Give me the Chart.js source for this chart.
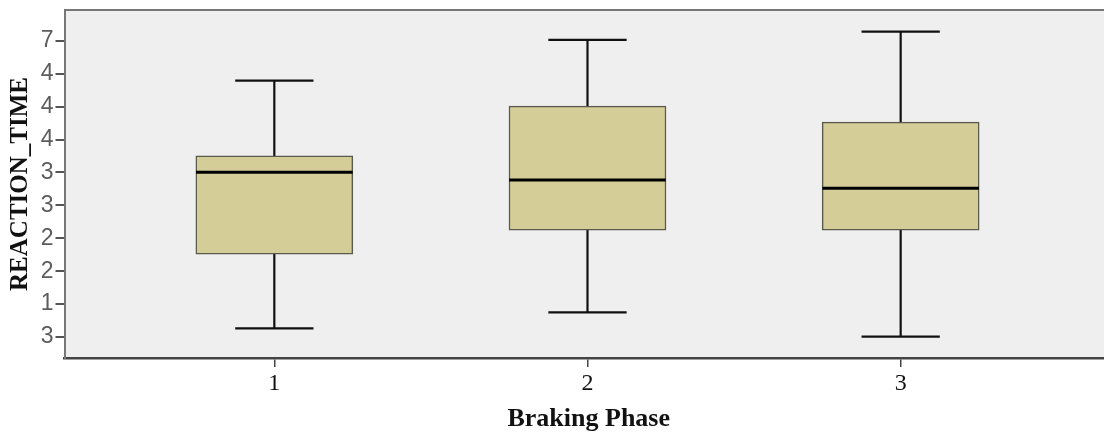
<!DOCTYPE html>
<html>
<head>
<meta charset="utf-8">
<script src="https://cdn.jsdelivr.net/npm/chart.js@4/dist/chart.umd.min.js"></script>
<style>
  html, body { margin: 0; padding: 0; background: #fff; overflow: hidden; }
  #wrap { width: 1120px; height: 436px; position: relative; }
</style>
</head>
<body>
<div id="wrap"><canvas id="boxChart"></canvas></div>
<script>
/* ---- data (y in axis units, tick 0 = bottom) ---- */
const phases      = [1, 2, 3];
const whiskerLow  = [0.26, 0.75, 0.01];
const q1          = [2.52, 3.25, 3.25];
const median      = [5.01, 4.77, 4.52];
const q3          = [5.51, 7.02, 6.53];
const whiskerHigh = [7.79, 9.03, 9.28];

const yTickValues = [0, 1, 2, 3, 4, 5, 6, 7, 8, 9];
const yTickLabels = ['3', '1', '2', '2', '3', '3', '4', '4', '4', '7'];

/* ---- whiskers, caps, medians, plot frame ---- */
const boxPlotExtras = {
  id: 'boxPlotExtras',
  beforeDraw (chart) {
    const { ctx, chartArea: a } = chart;
    ctx.save();
    ctx.fillStyle = '#efefef';
    ctx.fillRect(a.left, a.top, a.width, a.height);
    ctx.restore();
  },
  beforeDatasetsDraw (chart) {
    const { ctx, scales: { x, y } } = chart;
    ctx.save();
    ctx.strokeStyle = '#111';
    ctx.lineWidth = 2.2;
    phases.forEach((p, i) => {
      const cx = x.getPixelForValue(p);
      const capL = x.getPixelForValue(p - 0.125);
      const capR = x.getPixelForValue(p + 0.125);
      const lo = y.getPixelForValue(whiskerLow[i]);
      const hi = y.getPixelForValue(whiskerHigh[i]);
      ctx.beginPath();
      ctx.moveTo(cx, lo); ctx.lineTo(cx, hi);
      ctx.moveTo(capL, lo); ctx.lineTo(capR, lo);
      ctx.moveTo(capL, hi); ctx.lineTo(capR, hi);
      ctx.stroke();
    });
    ctx.restore();
  },
  afterDatasetsDraw (chart) {
    const { ctx, scales: { x, y }, chartArea: a } = chart;
    ctx.save();
    ctx.strokeStyle = '#000';
    ctx.lineWidth = 3;
    phases.forEach((p, i) => {
      const l = x.getPixelForValue(p - 0.25);
      const r = x.getPixelForValue(p + 0.25);
      const m = y.getPixelForValue(median[i]);
      ctx.beginPath();
      ctx.moveTo(l, m); ctx.lineTo(r, m);
      ctx.stroke();
    });
    // top + right border of the plot frame
    ctx.strokeStyle = '#777';
    ctx.lineWidth = 2;
    ctx.beginPath();
    ctx.moveTo(a.left, a.top); ctx.lineTo(a.right, a.top); ctx.lineTo(a.right, a.bottom);
    ctx.stroke();
    ctx.restore();
  }
};

const noPad = s => { s.paddingTop = 0; s.paddingBottom = 0; s.paddingLeft = 0; s.paddingRight = 0; };

new Chart(document.getElementById('boxChart'), {
  type: 'bar',
  data: {
    datasets: [{
      data: phases.map((p, i) => ({ x: p, y: [q1[i], q3[i]] })),
      backgroundColor: '#d4cd98',
      borderColor: '#5a5a4c',
      borderWidth: 1.5,
      borderSkipped: false,
      barThickness: 157
    }]
  },
  options: {
    responsive: true,
    maintainAspectRatio: false,
    animation: false,
    layout: { padding: { top: 10, right: 7, bottom: 0, left: 0 } },
    plugins: { legend: { display: false }, tooltip: { enabled: false } },
    scales: {
      x: {
        type: 'linear',
        min: 0.33,
        max: 3.678,
        offset: false,
        afterBuildTicks: s => { s.ticks = phases.map(v => ({ value: v })); },
        afterFit: s => { s.height = 78; noPad(s); },
        ticks: {
          color: '#111',
          padding: 2,
          font: { family: "'Liberation Serif', serif", size: 24 }
        },
        grid: { offset: false, drawOnChartArea: false, drawTicks: true, tickLength: 9, color: '#444', lineWidth: 1.5 },
        border: { display: true, color: '#444', width: 2.5 },
        title: {
          display: true,
          text: 'Braking Phase',
          color: '#111',
          padding: { top: 0, bottom: 1 },
          font: { family: "'Liberation Serif', serif", size: 26, weight: 'bold' }
        }
      },
      y: {
        min: -0.64,
        max: 9.94,
        afterBuildTicks: s => { s.ticks = yTickValues.map(v => ({ value: v })); },
        afterFit: s => { s.width = 64.5; noPad(s); },
        ticks: {
          color: '#5c5c5c',
          padding: 2,
          font: { family: "'Liberation Sans Narrow', 'Liberation Sans', sans-serif", size: 23 },
          callback: v => yTickLabels[yTickValues.indexOf(v)]
        },
        grid: { drawOnChartArea: false, drawTicks: true, tickLength: 9, color: '#555', lineWidth: 2 },
        border: { display: true, color: '#777', width: 2 },
        title: {
          display: true,
          text: 'REACTION_TIME',
          color: '#111',
          padding: { top: 6, bottom: 0 },
          font: { family: "'Liberation Serif', serif", size: 25, weight: 'bold' }
        }
      }
    }
  },
  plugins: [boxPlotExtras]
});
</script>
</body>
</html>
